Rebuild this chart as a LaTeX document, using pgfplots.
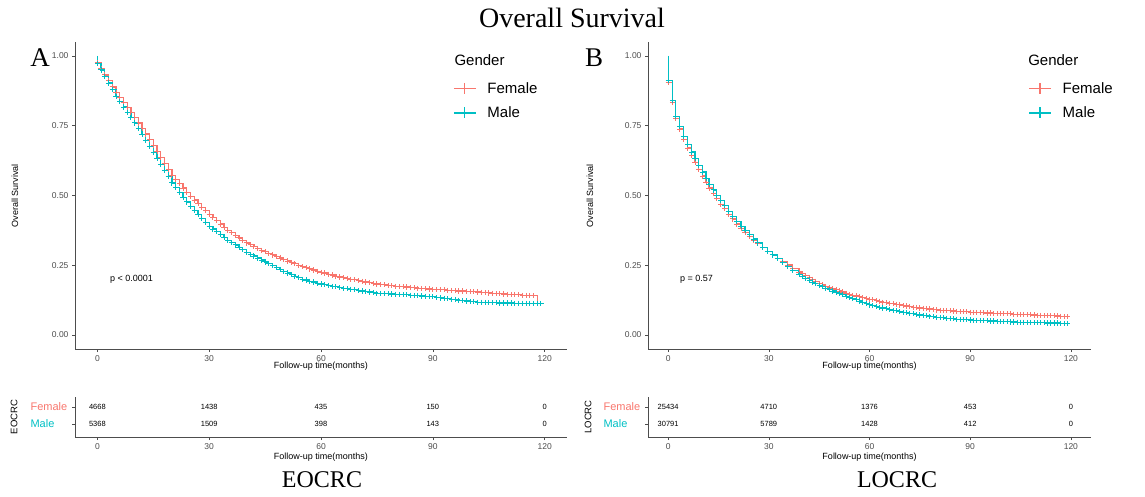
\documentclass[border=0pt]{standalone}
\usepackage{fontspec}
\setmainfont{Liberation Sans}
\newfontfamily\serif{Liberation Serif}
\usepackage{pgfplots}
\usepackage{pgfplotstable}
\pgfplotsset{compat=1.18}

\definecolor{fcol}{HTML}{F8766D}
\definecolor{mcol}{HTML}{00BFC4}
\definecolor{axgray}{HTML}{4D4D4D}

% EOCRC, Female
\pgfplotstableread{
t S
0 1.000
0 0.975
1 0.954
2 0.932
3 0.911
4 0.889
5 0.868
6 0.850
7 0.833
8 0.815
9 0.798
10 0.780
11 0.760
12 0.740
13 0.720
14 0.700
15 0.680
16 0.658
17 0.637
18 0.615
19 0.594
20 0.572
21 0.557
22 0.542
23 0.527
24 0.512
25 0.497
26 0.484
27 0.471
28 0.458
29 0.445
30 0.432
31 0.421
32 0.409
33 0.398
34 0.386
35 0.375
36 0.366
37 0.357
38 0.348
39 0.339
40 0.330
41 0.324
42 0.317
43 0.311
44 0.304
45 0.298
46 0.292
47 0.287
48 0.281
49 0.276
50 0.270
51 0.265
52 0.260
53 0.255
54 0.250
55 0.245
56 0.241
57 0.237
58 0.233
59 0.229
60 0.225
61 0.222
62 0.218
63 0.215
64 0.211
65 0.208
66 0.205
67 0.203
68 0.200
69 0.198
70 0.195
71 0.193
72 0.190
73 0.188
74 0.185
75 0.183
76 0.181
77 0.180
78 0.178
79 0.177
80 0.175
81 0.174
82 0.173
83 0.172
84 0.170
85 0.169
86 0.168
87 0.167
88 0.166
89 0.165
90 0.164
91 0.163
92 0.162
93 0.162
94 0.161
95 0.160
96 0.159
97 0.158
98 0.158
99 0.157
100 0.156
101 0.155
102 0.154
103 0.153
104 0.152
105 0.151
106 0.150
107 0.149
108 0.148
109 0.147
110 0.146
111 0.145
112 0.145
113 0.144
114 0.143
115 0.143
116 0.142
117 0.142
118 0.115
}\femA

% EOCRC, Male
\pgfplotstableread{
t S
0 1.000
0 0.974
1 0.950
2 0.926
3 0.903
4 0.879
5 0.855
6 0.836
7 0.817
8 0.798
9 0.779
10 0.760
11 0.739
12 0.718
13 0.697
14 0.676
15 0.655
16 0.633
17 0.611
18 0.589
19 0.567
20 0.545
21 0.528
22 0.511
23 0.494
24 0.477
25 0.460
26 0.446
27 0.432
28 0.418
29 0.404
30 0.390
31 0.380
32 0.370
33 0.360
34 0.350
35 0.340
36 0.331
37 0.323
38 0.314
39 0.306
40 0.297
41 0.290
42 0.283
43 0.276
44 0.269
45 0.262
46 0.255
47 0.248
48 0.242
49 0.235
50 0.228
51 0.222
52 0.217
53 0.211
54 0.206
55 0.200
56 0.197
57 0.193
58 0.190
59 0.186
60 0.183
61 0.180
62 0.178
63 0.175
64 0.173
65 0.170
66 0.168
67 0.166
68 0.164
69 0.162
70 0.160
71 0.158
72 0.156
73 0.154
74 0.152
75 0.150
76 0.149
77 0.148
78 0.148
79 0.147
80 0.146
81 0.145
82 0.144
83 0.144
84 0.143
85 0.142
86 0.141
87 0.140
88 0.139
89 0.138
90 0.137
91 0.135
92 0.133
93 0.132
94 0.130
95 0.128
96 0.126
97 0.125
98 0.123
99 0.122
100 0.120
101 0.119
102 0.118
103 0.118
104 0.117
105 0.116
106 0.116
107 0.116
108 0.115
109 0.115
110 0.115
111 0.115
112 0.114
113 0.114
114 0.114
115 0.114
116 0.114
117 0.113
118 0.113
119 0.113
}\malA

% LOCRC, Female
\pgfplotstableread{
t S
0 1.000
0 0.905
1.3 0.833
2.3 0.776
3.5 0.738
4.5 0.700
5.8 0.670
7.0 0.642
8.0 0.618
9.0 0.594
10.2 0.570
11.3 0.548
12.2 0.527
13.4 0.507
14.4 0.489
15.7 0.469
16.9 0.452
18.0 0.433
19.2 0.416
20.4 0.398
21.7 0.383
22.9 0.368
24.2 0.354
25.4 0.340
26.7 0.327
28.1 0.313
29.6 0.299
31.1 0.287
32.6 0.275
34.1 0.263
35.6 0.251
37.1 0.239
39 0.226
40 0.220
41 0.213
42 0.207
43 0.200
44 0.193
45 0.184
46 0.179
47 0.174
48 0.170
49 0.166
50 0.162
51 0.158
52 0.154
53 0.150
54 0.146
55 0.143
56 0.140
57 0.137
58 0.134
59 0.131
60 0.128
61 0.126
62 0.123
63 0.121
64 0.118
65 0.116
66 0.114
67 0.112
68 0.110
69 0.108
70 0.106
71 0.104
72 0.102
73 0.100
74 0.099
75 0.097
76 0.096
77 0.094
78 0.093
79 0.091
80 0.090
81 0.089
82 0.088
83 0.088
84 0.087
85 0.086
86 0.085
87 0.084
88 0.084
89 0.083
90 0.082
91 0.081
92 0.081
93 0.080
94 0.080
95 0.079
96 0.079
97 0.078
98 0.078
99 0.077
100 0.077
101 0.076
102 0.076
103 0.075
104 0.075
105 0.074
106 0.074
107 0.073
108 0.073
109 0.072
110 0.071
111 0.071
112 0.070
113 0.070
114 0.069
115 0.069
116 0.068
117 0.067
118 0.066
119 0.066
}\femB

% LOCRC, Male
\pgfplotstableread{
t S
0 1.000
0 0.912
1.3 0.840
2.3 0.784
3.5 0.748
4.5 0.712
5.8 0.683
7.0 0.656
8.0 0.632
9.0 0.608
10.2 0.584
11.3 0.561
12.2 0.540
13.4 0.520
14.4 0.501
15.7 0.481
16.9 0.463
18.0 0.442
19.2 0.425
20.4 0.406
21.7 0.390
22.9 0.374
24.2 0.359
25.4 0.344
26.7 0.330
28.1 0.315
29.6 0.300
31.1 0.287
32.6 0.273
34.1 0.259
35.6 0.246
37.1 0.232
39 0.217
40 0.210
41 0.203
42 0.197
43 0.190
44 0.184
45 0.178
46 0.173
47 0.168
48 0.163
49 0.158
50 0.153
51 0.148
52 0.144
53 0.139
54 0.135
55 0.131
56 0.127
57 0.122
58 0.117
59 0.113
60 0.108
61 0.105
62 0.103
63 0.100
64 0.097
65 0.094
66 0.092
67 0.089
68 0.087
69 0.084
70 0.082
71 0.080
72 0.078
73 0.076
74 0.074
75 0.072
76 0.070
77 0.069
78 0.067
79 0.066
80 0.064
81 0.063
82 0.062
83 0.060
84 0.059
85 0.058
86 0.057
87 0.056
88 0.056
89 0.055
90 0.054
91 0.053
92 0.053
93 0.052
94 0.052
95 0.051
96 0.050
97 0.050
98 0.049
99 0.049
100 0.048
101 0.048
102 0.047
103 0.047
104 0.046
105 0.046
106 0.046
107 0.045
108 0.045
109 0.044
110 0.044
111 0.044
112 0.044
113 0.043
114 0.043
115 0.043
116 0.043
117 0.042
118 0.042
119 0.042
}\malB

\pgfplotsset{
  ggaxis/.style={
    scale only axis,
    xmin=-6, xmax=126,
    axis x line*=bottom, axis y line*=left,
    axis line style={draw=axgray, line width=0.8pt, -},
    xtick={0,30,60,90,120},
    tick align=outside, major tick length=3pt,
    tick style={draw=axgray, line width=0.6pt},
    ticklabel style={font=\fontsize{8.5}{9}\selectfont, text=axgray},
    /pgf/number format/assume math mode=true,
    label style={font=\fontsize{9}{10}\selectfont, inner sep=0pt},
  },
  kmaxis/.style={
    ggaxis, height=307pt,
    ymin=-0.05, ymax=1.05,
    ytick={0,0.25,0.5,0.75,1},
    yticklabels={0.00,0.25,0.50,0.75,1.00},
    xlabel={Follow-up time(months)},
    ylabel={Overall Survival},
    xlabel style={at={(axis description cs:0.5,0)}, anchor=north, yshift=-12.5pt},
    legend image code/.code={\draw[#1,mark repeat=2,mark phase=2,line width=1.4pt,
      mark size=5.5pt, mark options={line width=1.1pt}]
      plot coordinates {(0pt,0pt) (11pt,0pt) (22pt,0pt)};},
    legend style={draw=none, fill=none, font=\fontsize{15}{16}\selectfont,
      inner sep=0pt, row sep=8pt, cells={anchor=west},
      /tikz/every odd column/.append style={column sep=9pt}},
  },
  riskaxis/.style={
    ggaxis, height=40pt,
    ymin=0.235, ymax=2.588,
    ytick={1,2},
    yticklabels={\textcolor{mcol}{Male},\textcolor{fcol}{Female}},
    yticklabel style={font=\fontsize{11}{12}\selectfont, anchor=west, xshift=-45pt},
    xlabel={Follow-up time(months)},
    xlabel style={at={(axis description cs:0.5,0)}, anchor=north, yshift=-16pt},
  },
  fem/.style={const plot, draw=fcol, line width=1.2pt, mark=+, mark size=2.6pt,
    mark repeat=1, mark phase=2, mark options={draw=fcol, line width=0.9pt}},
  mal/.style={const plot, draw=mcol, line width=1.2pt, mark=+, mark size=2.6pt,
    mark repeat=1, mark phase=2, mark options={draw=mcol, line width=0.9pt}},
  risknum/.style={only marks, mark=*, mark size=0pt, mark options={draw=none, fill=none},
    point meta=explicit symbolic, nodes near coords, nodes near coords align={center},
    nodes near coords style={font=\fontsize{7.5}{9}\selectfont, text=black, inner sep=0pt}},
}

\begin{document}
\begin{tikzpicture}[x=1pt,y=1pt]
\path[use as bounding box] (0,0) rectangle (1145,496);

\node[font=\serif\fontsize{28}{30}\selectfont] at (572,478) {Overall Survival};
\node[font=\serif\fontsize{27}{29}\selectfont] at (40,438) {A};
\node[font=\serif\fontsize{27}{29}\selectfont] at (594,438) {B};
\node[font=\serif\fontsize{24}{26}\selectfont] at (322,16) {EOCRC};
\node[font=\serif\fontsize{24}{26}\selectfont] at (897,16) {LOCRC};

% panel A, survival curves
\begin{axis}[kmaxis, width=492pt, at={(75pt,147pt)}, anchor=south west,
  ylabel style={at={(axis description cs:-0.122,0.5)}, anchor=center},
  legend style={at={(0.768,0.876)}, anchor=north west}]
\addplot[fem] table {\femA};
\addlegendentry{Female}
\addplot[mal] table {\malA};
\addlegendentry{Male}
\node[anchor=west, font=\fontsize{9}{10}\selectfont] at (axis cs:2.5,0.2) {p < 0.0001};
\node[anchor=west, font=\fontsize{15}{16}\selectfont, inner sep=0pt] at (rel axis cs:0.771,0.941) {Gender};
\end{axis}

% panel B, survival curves
\begin{axis}[kmaxis, width=443pt, at={(648pt,147pt)}, anchor=south west,
  ylabel style={at={(axis description cs:-0.131,0.5)}, anchor=center},
  legend style={at={(0.858,0.876)}, anchor=north west}]
\addplot[fem] table {\femB};
\addlegendentry{Female}
\addplot[mal] table {\malB};
\addlegendentry{Male}
\node[anchor=west, font=\fontsize{9}{10}\selectfont] at (axis cs:2.5,0.2) {p = 0.57};
\node[anchor=west, font=\fontsize{15}{16}\selectfont, inner sep=0pt] at (rel axis cs:0.858,0.941) {Gender};
\end{axis}

% panel A, number at risk
\begin{axis}[riskaxis, width=492pt, at={(75pt,59pt)}, anchor=south west,
  ylabel={EOCRC},
  ylabel style={at={(axis description cs:-0.124,0.5)}, anchor=center, font=\fontsize{9.5}{10}\selectfont}]
\addplot[risknum] coordinates {
  (0,2) [4668] (30,2) [1438] (60,2) [435] (90,2) [150] (120,2) [0]
  (0,1) [5368] (30,1) [1509] (60,1) [398] (90,1) [143] (120,1) [0]};
\node[anchor=west, font=\fontsize{9.5}{10}\selectfont, inner sep=0pt] at (rel axis cs:0,1.325) {Number at risk};
\end{axis}

% panel B, number at risk
\begin{axis}[riskaxis, width=443pt, at={(648pt,59pt)}, anchor=south west,
  ylabel={LOCRC},
  ylabel style={at={(axis description cs:-0.135,0.5)}, anchor=center, font=\fontsize{9.5}{10}\selectfont}]
\addplot[risknum] coordinates {
  (0,2) [25434] (30,2) [4710] (60,2) [1376] (90,2) [453] (120,2) [0]
  (0,1) [30791] (30,1) [5789] (60,1) [1428] (90,1) [412] (120,1) [0]};
\node[anchor=west, font=\fontsize{9.5}{10}\selectfont, inner sep=0pt] at (rel axis cs:0,1.325) {Number at risk};
\end{axis}
\end{tikzpicture}
\end{document}
